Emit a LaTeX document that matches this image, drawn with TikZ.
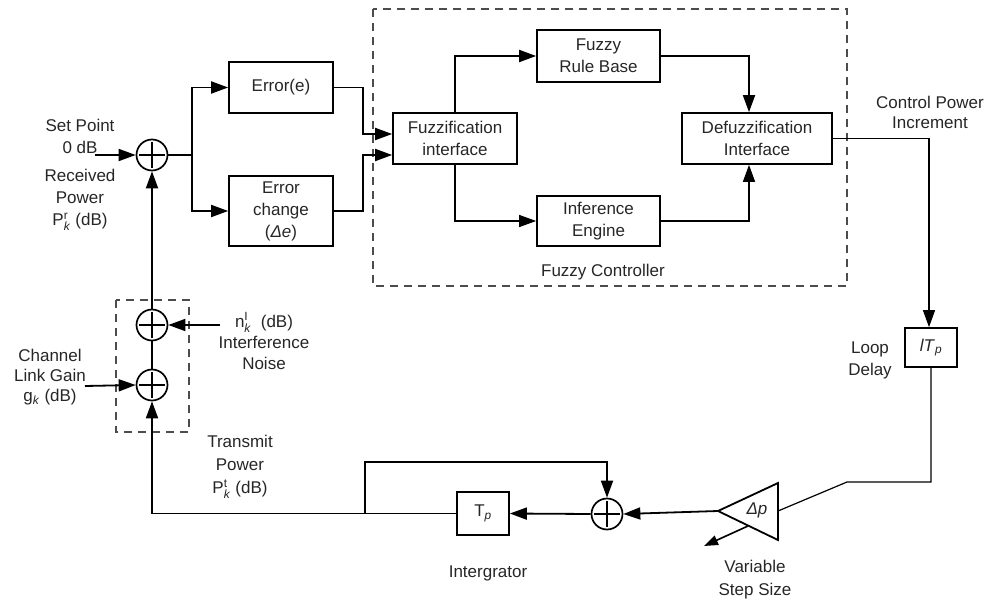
\documentclass[tikz,border=0pt]{standalone}
\usepackage{fontspec}
\setmainfont{Liberation Sans}
\usepackage{amsmath}
\usetikzlibrary{arrows.meta}
\begin{document}
\begin{tikzpicture}[x=1pt,y=-1pt,
  lbl/.style={font=\fontsize{17}{22}\selectfont, align=center, inner sep=0pt, text=black!85},
  blk/.style={draw, line width=1.7pt, inner sep=0pt, align=center, font=\fontsize{17}{22}\selectfont, text=black!85},
  sumnode/.style={circle, draw, line width=1.7pt, minimum size=31pt, inner sep=0pt,
    path picture={\draw[line width=1.6pt]
      ([xshift=-13pt]path picture bounding box.center) -- ([xshift=13pt]path picture bounding box.center)
      ([yshift=-13pt]path picture bounding box.center) -- ([yshift=13pt]path picture bounding box.center);}},
  conn/.style={line width=1.8pt},
  thin/.style={line width=1.2pt},
  arr/.style={line width=1.8pt, -{Triangle[length=17pt,width=12pt]}},
  dashbox/.style={draw=black!70, line width=1.1pt, dash pattern=on 8pt off 6pt}
]
\useasboundingbox (0,0) rectangle (991,602);

% dashed group boxes
\draw[dashbox] (373,9) rectangle (847,286);
\draw[dashbox] (116,300) rectangle (189,432);

% summing junctions
\node[sumnode] (s1) at (152,155) {};
\node[sumnode] (s2) at (152,325) {};
\node[sumnode] (s3) at (152,385) {};
\node[sumnode] (s4) at (607,514) {};

% blocks
\node[blk, minimum width=104pt, minimum height=51pt] (err) at (281,87.5) {Error(e)};
\node[blk, minimum width=104pt, minimum height=70pt] (derr) at (281,211) {Error\\change\\(\textit{Δe})};
\node[blk, minimum width=124pt, minimum height=51pt] (fuzz) at (455,138.5) {Fuzzification\\interface};
\node[blk, minimum width=123pt, minimum height=52pt] (rule) at (598.5,56) {Fuzzy\\Rule Base};
\node[blk, minimum width=123pt, minimum height=50pt] (inf) at (598.5,221) {Inference\\Engine};
\node[blk, minimum width=150pt, minimum height=51pt] (defuzz) at (757,138.5) {Defuzzification\\Interface};
\node[blk, minimum width=52pt, minimum height=39pt] (delay) at (931,347.5) {\textit{lT}$_{\text{\textit{p}}}$};
\node[blk, minimum width=52pt, minimum height=43pt] (tp) at (483,513.5) {T$_{\text{\textit{p}}}$};

% gain triangle
\coordinate (triL) at (718,511);
\coordinate (triR) at (778,511);
\draw[conn] (triL) -- (778,483) -- (778,540) -- cycle;
\node[lbl] (gain) at (757,510) {\textit{Δp}};
\coordinate (varA) at (748,526);
\coordinate (varB) at (704,546);
\draw[line width=1.6pt, -{Triangle[length=14pt,width=10pt]}] (varA) -- (varB);

% labels
\node[lbl] (setp) at (80,136) {Set Point\\0 dB};
\node[lbl] (recv) at (80,200) {Received\\Power\\P$^{\text{r}}_{\text{\textit{k}}}$ (dB)};
\node[lbl, font=\fontsize{17}{20}\selectfont] (chan) at (50,377) {Channel\\Link Gain\\g$_{\text{\textit{k}}}$ (dB)};
\node[lbl, font=\fontsize{17}{21}\selectfont] (noise) at (264,341) {n$^{\text{I}}_{\text{\textit{k}}}$ \ (dB)\\Interference\\Noise};
\node[lbl, font=\fontsize{17}{23}\selectfont] (tx) at (240,467) {Transmit\\Power\\P$^{\text{t}}_{\text{\textit{k}}}$ (dB)};
\node[lbl, font=\fontsize{17}{20}\selectfont] (cpi) at (930,112) {Control Power\\Increment};
\node[lbl] (loop) at (870,360) {Loop\\Delay};
\node[lbl, font=\fontsize{17}{23}\selectfont] (vss) at (755,580) {Variable\\Step Size};
\node[lbl] (integ) at (488,573) {Intergrator};
\node[lbl] (fc) at (603,272) {Fuzzy Controller};

% free input ends
\coordinate (inSP) at (95,155);
\coordinate (inN) at (220,325);
\coordinate (inG) at (85,386);
\coordinate (br) at (365,514);

% connectors
\draw[arr] (inSP) -- (s1.west);
\draw[arr] (inN) -- (s2.east);
\draw[arr] (inG) -- (s3.west);
\draw[conn] (s3.north) -- (s2.south);
\draw[arr] (s2.north) -- (s1.south);

\draw[arr] (s1.east) -- (192,155) |- (err.west);
\draw[arr] (s1.east) -- (192,155) |- (derr.west);
\draw[arr] (err.east) -- (363,87.5) |- ([yshift=4.5pt]fuzz.west);
\draw[arr] (derr.east) -- (363,211) |- ([yshift=-16.5pt]fuzz.west);
\draw[arr] (fuzz.north) |- (rule.west);
\draw[arr, line width=1.2pt] (fuzz.south) |- (inf.west);
\draw[arr] (rule.east) -| ([xshift=-8pt]defuzz.north);
\draw[arr, line width=1.4pt] (inf.east) -| ([xshift=-8pt]defuzz.south);
\draw[arr, line width=1.2pt] (defuzz.east) -| ([xshift=-2pt]delay.north);
\draw[thin] (delay.south) -- (931,482) -- (847,482) -- (triR);
\draw[arr] (triL) -- (s4.east);
\draw[arr] (s4.west) -- (tp.east);
\draw[arr] (tp.west) -| (s3.south);
\draw[arr] (br) -- (365,462) -| (s4.north);
\end{tikzpicture}
\end{document}
